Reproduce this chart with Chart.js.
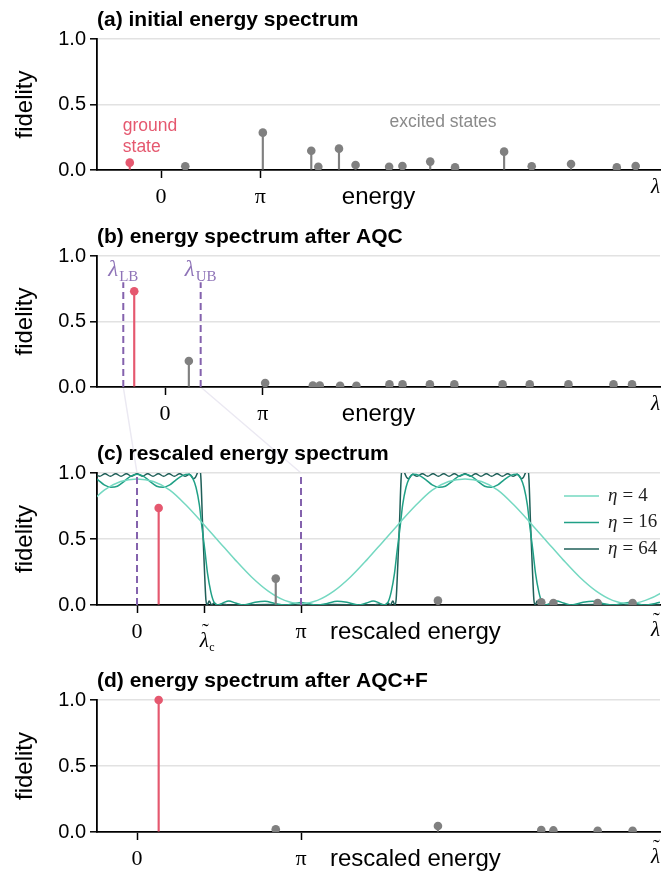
<!DOCTYPE html>
<html>
<head>
<meta charset="utf-8">
<title>Energy spectrum before and after AQC+F</title>
<script src="https://cdn.jsdelivr.net/npm/chart.js@4.4.1/dist/chart.umd.min.js"></script>
<style>
  body { margin: 0; background: #fff; }
  #wrap { position: relative; width: 670px; height: 873px; overflow: hidden; }
  #wrap canvas { position: absolute; left: 0; }
</style>
</head>
<body>
<div id="wrap">
  <canvas id="links" width="670" height="873" style="top:0"></canvas>
  <canvas id="panel-a" width="670" height="218" style="top:0"></canvas>
  <canvas id="panel-b" width="670" height="218" style="top:218px"></canvas>
  <canvas id="panel-c" width="670" height="218" style="top:436px"></canvas>
  <canvas id="panel-d" width="670" height="219" style="top:654px"></canvas>
</div>
<script>
// all x values are in units of pi; index 0 is the ground state
const energies = [-0.315, 0.244, 1.025, 1.513, 1.584, 1.792, 1.959, 2.297, 2.431, 2.711, 2.961, 3.455, 3.733, 4.129, 4.59, 4.78];
const fidelityInitial = [0.056, 0.028, 0.285, 0.147, 0.025, 0.163, 0.038, 0.025, 0.03, 0.064, 0.02, 0.14, 0.028, 0.046, 0.02, 0.03];
const fidelityAQC = [0.731, 0.199, 0.03, 0.012, 0.012, 0.01, 0.01, 0.02, 0.02, 0.02, 0.02, 0.02, 0.02, 0.02, 0.02, 0.02];

const lambdaLB = -0.427;
const lambdaUB = 0.365;
const lambdaC = 0.41;

// states that stay inside the rescaled window
const rescaledEnergies = [0.132, 0.846, 1.835, 2.465, 2.539, 2.809, 3.022];
const fidelityRescaled = [0.735, 0.2, 0.033, 0.02, 0.015, 0.015, 0.015];
const fidelityFiltered = [1.0, 0.02, 0.045, 0.015, 0.012, 0.01, 0.01];

// filter curves, [x, fidelity]
const etaValues = [4, 16, 64];
const eta4Curve = [[-0.3,0.755],[-0.2,0.87],[-0.1,0.935],[0,0.955],[0.1,0.935],[0.2,0.87],[0.3,0.755],[0.4,0.62],[0.5,0.48],[0.6,0.34],[0.7,0.21],[0.8,0.105],[0.9,0.035],[1.0,0.01],[1.1,0.035],[1.2,0.105],[1.3,0.21],[1.4,0.34],[1.5,0.48],[1.6,0.62],[1.7,0.755],[1.8,0.87],[1.9,0.935],[2.0,0.955],[2.1,0.935],[2.2,0.87],[2.3,0.755],[2.4,0.62],[2.5,0.48],[2.6,0.34],[2.7,0.21],[2.8,0.105],[2.9,0.035],[3.0,0.01],[3.1,0.035],[3.2,0.095],[3.3,0.21]];
const eta16Curve = [[-0.3,0.988],[-0.28,0.982],[-0.24,0.95],[-0.2,0.91],[-0.16,0.892],[-0.12,0.9],[-0.08,0.935],[-0.04,0.975],[0,0.99],[0.04,0.975],[0.08,0.935],[0.12,0.9],[0.16,0.892],[0.2,0.91],[0.24,0.95],[0.28,0.982],[0.315,0.99],[0.34,0.96],[0.36,0.89],[0.38,0.76],[0.395,0.6],[0.405,0.5],[0.415,0.4],[0.43,0.24],[0.45,0.1],[0.47,0.02],[0.495,0],[0.53,0.02],[0.56,0.03],[0.6,0.015],[0.65,0],[0.72,0.02],[0.78,0.028],[0.84,0.012],[0.9,0],[0.96,0.012],[1.0,0.018],[1.04,0.012],[1.1,0],[1.16,0.012],[1.22,0.028],[1.28,0.02],[1.35,0],[1.4,0.015],[1.44,0.03],[1.47,0.02],[1.505,0],[1.53,0.02],[1.55,0.1],[1.57,0.24],[1.585,0.4],[1.595,0.5],[1.605,0.6],[1.62,0.76],[1.64,0.89],[1.66,0.96],[1.685,0.99],[1.72,0.982],[1.76,0.95],[1.8,0.91],[1.84,0.892],[1.88,0.9],[1.92,0.935],[1.96,0.975],[2.0,0.99],[2.04,0.975],[2.08,0.935],[2.12,0.9],[2.16,0.892],[2.2,0.91],[2.24,0.95],[2.28,0.982],[2.315,0.99],[2.34,0.96],[2.36,0.89],[2.38,0.76],[2.395,0.6],[2.405,0.5],[2.415,0.4],[2.43,0.24],[2.45,0.1],[2.47,0.02],[2.495,0],[2.53,0.02],[2.56,0.03],[2.6,0.015],[2.65,0],[2.72,0.02],[2.78,0.028],[2.84,0.012],[2.9,0],[2.96,0.012],[3.0,0.018],[3.04,0.012],[3.1,0],[3.16,0.012],[3.22,0.028],[3.3,0.015]];
const eta64Curve = [[-0.3,0.985],[-0.2925,0.975],[-0.26,0.995],[-0.2275,0.975],[-0.195,0.995],[-0.1625,0.975],[-0.13,0.995],[-0.0975,0.975],[-0.065,0.995],[-0.0325,0.975],[0,0.995],[0.0325,0.975],[0.065,0.995],[0.0975,0.975],[0.13,0.995],[0.1625,0.975],[0.195,0.995],[0.2275,0.975],[0.26,0.995],[0.2925,0.975],[0.32,0.99],[0.346,0.957],[0.368,1.0],[0.38,1.06],[0.39,0.95],[0.4,0.6],[0.41,0.3],[0.42,0.04],[0.428,0],[0.44,0.03],[0.455,0],[0.47,0.015],[0.49,0],[0.52,0.008],[0.56,0],[0.8,0.004],[1.0,0],[1.2,0.004],[1.44,0],[1.48,0.008],[1.51,0],[1.53,0.015],[1.545,0],[1.56,0.03],[1.572,0],[1.58,0.04],[1.59,0.3],[1.6,0.6],[1.61,0.95],[1.62,1.06],[1.632,1.0],[1.654,0.957],[1.68,0.99],[1.7075,0.975],[1.74,0.995],[1.7725,0.975],[1.805,0.995],[1.8375,0.975],[1.87,0.995],[1.9025,0.975],[1.935,0.995],[1.9675,0.975],[2.0,0.995],[2.0325,0.975],[2.065,0.995],[2.0975,0.975],[2.13,0.995],[2.1625,0.975],[2.195,0.995],[2.2275,0.975],[2.26,0.995],[2.2925,0.975],[2.32,0.99],[2.346,0.957],[2.368,1.0],[2.38,1.06],[2.39,0.95],[2.4,0.6],[2.41,0.3],[2.42,0.04],[2.428,0],[2.44,0.03],[2.455,0],[2.47,0.015],[2.49,0],[2.52,0.008],[2.56,0],[2.8,0.004],[3.0,0],[3.3,0]];

const SANS = "'Liberation Sans', Arial, Helvetica, sans-serif";
const SERIF = "'Liberation Serif', 'DejaVu Serif', serif";
const RED = '#e5586f';
const GRAY = '#808080';
const PURPLE = '#8462ad';
const PURPLE_TEXT = '#8f74b8';
const ETA_COLORS = ['#74d8c1', '#20a086', '#1f5f58'];

const toPts = (xs, ys) => xs.map((x, i) => ({ x, y: ys[i] }));
const pairPts = arr => arr.map(([x, y]) => ({ x, y }));
const dotClip = { left: 0, right: 0, top: false, bottom: 0 };

// stems = thin bars, heads = scatter dots
function stemSets(xs, ys) {
  const ground = toPts(xs.slice(0, 1), ys.slice(0, 1));
  const excited = toPts(xs.slice(1), ys.slice(1));
  return [
    { type: 'scatter', data: ground, backgroundColor: RED, borderWidth: 0, pointRadius: 4.3, order: 0, clip: dotClip },
    { type: 'scatter', data: excited, backgroundColor: GRAY, borderWidth: 0, pointRadius: 4.3, order: 0, clip: dotClip },
    { type: 'bar', data: ground, backgroundColor: RED, barThickness: 1.5, grouped: false, order: 1 },
    { type: 'bar', data: excited, backgroundColor: GRAY, barThickness: 1.5, grouped: false, order: 1 }
  ];
}

function vline(x, top) {
  return { type: 'line', data: [{ x, y: 0 }, { x, y: top }], borderColor: PURPLE, borderWidth: 2,
    borderDash: [7, 4], pointRadius: 0, order: 1, clip: false };
}

function curve(pts, color) {
  return { type: 'line', data: pairPts(pts), borderColor: color, borderWidth: 1.5, pointRadius: 0,
    cubicInterpolationMode: 'monotone', order: 3, clip: 0 };
}

// the cutoff tick gets its label (lambda tilde with subscript c) from the decor plugin
function tickText(v) {
  if (v === 0) return '0';
  if (v === 1) return 'π';
  return '';
}

// draw a run of text pieces with different fonts
function drawPieces(ctx, pieces, x, y, align) {
  let w = 0;
  pieces.forEach(p => { ctx.font = p.font; w += ctx.measureText(p.t).width + (p.gap || 0); });
  let cx = align === 'center' ? x - w / 2 : align === 'right' ? x - w : x;
  ctx.textAlign = 'left';
  pieces.forEach(p => {
    ctx.font = p.font;
    ctx.fillText(p.t, cx, y + (p.dy || 0));
    cx += ctx.measureText(p.t).width + (p.gap || 0);
  });
}

// italic lambda with a tilde on top, baseline at y, right edge at x
function drawLambdaTilde(ctx, x, y, size, align) {
  ctx.font = `italic ${size}px ${SERIF}`;
  const w = ctx.measureText('λ').width;
  const left = align === 'center' ? x - w / 2 : x - w;
  ctx.textAlign = 'left';
  ctx.fillText('λ', left, y);
  ctx.font = `${size}px ${SERIF}`;
  ctx.textAlign = 'center';
  ctx.fillText('\u02DC', left + w * 0.6, y - size * 0.42);
}

function decorPlugin(p) {
  return {
    id: 'decor',
    afterDraw(chart) {
      const { ctx, chartArea: area, scales: { x, y } } = chart;
      ctx.save();
      ctx.fillStyle = '#000';
      ctx.textBaseline = 'alphabetic';
      ctx.textAlign = 'left';
      ctx.font = `bold 21px ${SANS}`;
      ctx.fillText(p.title, area.left, area.top - 13);

      // y axis label
      ctx.save();
      ctx.translate(25, (area.top + area.bottom) / 2);
      ctx.rotate(-Math.PI / 2);
      ctx.textAlign = 'center';
      ctx.textBaseline = 'middle';
      ctx.font = `24px ${SANS}`;
      ctx.fillText('fidelity', 0, 0);
      ctx.restore();

      // x axis label
      ctx.font = `24px ${SANS}`;
      if (p.xLabelCentered) {
        ctx.textAlign = 'center';
        ctx.fillText(p.xLabel, (area.left + area.right) / 2, area.bottom + 34);
      } else {
        ctx.textAlign = 'left';
        ctx.fillText(p.xLabel, x.getPixelForValue(1) + 29, area.bottom + 34);
      }

      // variable name at the end of the x axis
      if (p.tilde) {
        drawLambdaTilde(ctx, area.right, area.bottom + p.lambdaDy, 21, 'right');
      } else {
        ctx.textAlign = 'right';
        ctx.font = `italic 21px ${SERIF}`;
        ctx.fillText('λ', area.right, area.bottom + p.lambdaDy);
      }

      if (p.extra) p.extra(ctx, area, x, y);
      ctx.restore();
    }
  };
}

function makePanel(p) {
  return new Chart(document.getElementById(p.id), {
    type: 'scatter',
    data: { datasets: p.datasets },
    options: {
      responsive: false,
      animation: false,
      devicePixelRatio: 1,
      layout: { padding: { top: p.top, right: 10, left: 0, bottom: 0 } },
      plugins: { legend: { display: false }, tooltip: { enabled: false } },
      scales: {
        x: {
          type: 'linear', min: p.min, max: p.max, offset: false,
          border: { color: '#000', width: 1.8 },
          grid: { offset: false, drawOnChartArea: false, tickLength: 8, tickWidth: 1.5, tickColor: '#000' },
          ticks: { font: { family: SERIF, size: 22 }, color: '#000', padding: 6, maxRotation: 0, autoSkip: false, callback: tickText },
          afterBuildTicks: s => { s.ticks = p.ticks.map(v => ({ value: v })); },
          afterFit: s => { s.height = p.xAxisH; }
        },
        y: {
          min: 0, max: 1,
          border: { color: '#000', width: 1.8 },
          grid: { color: c => (c.tick && c.tick.value === 0) ? 'rgba(0,0,0,0)' : '#e2e2e2', lineWidth: 1.6,
                  tickColor: '#000', tickLength: 7, tickWidth: 1.5 },
          ticks: { stepSize: 0.5, font: { family: SANS, size: 20 }, color: '#000', padding: 4, callback: v => v.toFixed(1) },
          afterFit: s => { s.width = 97; }
        }
      }
    },
    plugins: [decorPlugin(p)]
  });
}

const chartA = makePanel({
  id: 'panel-a', title: '(a) initial energy spectrum', top: 39, xAxisH: 48,
  min: -0.645, max: 5.025, ticks: [0, 1], xLabel: 'energy', xLabelCentered: true, lambdaDy: 23,
  datasets: stemSets(energies, fidelityInitial),
  extra(ctx, area, x, y) {
    ctx.font = `17.5px ${SANS}`;
    ctx.textAlign = 'left';
    ctx.fillStyle = RED;
    const gx = x.getPixelForValue(energies[0]) - 7;
    const gy = y.getPixelForValue(fidelityInitial[0]);
    ctx.fillText('ground', gx, gy - 32);
    ctx.fillText('state', gx, gy - 11);
    ctx.fillStyle = '#8a8a8a';
    ctx.textAlign = 'center';
    ctx.fillText('excited states', x.getPixelForValue(2.84), y.getPixelForValue(0.33));
  }
});

const chartB = makePanel({
  id: 'panel-b', title: '(b) energy spectrum after AQC', top: 38, xAxisH: 49,
  min: -0.696, max: 5.066, ticks: [0, 1], xLabel: 'energy', xLabelCentered: true, lambdaDy: 23,
  datasets: [...stemSets(energies, fidelityAQC), vline(lambdaLB, 0.8), vline(lambdaUB, 0.8)],
  extra(ctx, area, x, y) {
    ctx.fillStyle = PURPLE_TEXT;
    [[lambdaLB, 'LB'], [lambdaUB, 'UB']].forEach(([v, sub]) => {
      drawPieces(ctx, [
        { t: 'λ', font: `italic 23px ${SERIF}`, gap: 1 },
        { t: sub, font: `15px ${SERIF}`, dy: 5 }
      ], x.getPixelForValue(v), area.top + 20, 'center');
    });
  }
});

const chartC = makePanel({
  id: 'panel-c', title: '(c) rescaled energy spectrum', top: 37, xAxisH: 49,
  min: -0.244, max: 3.189, ticks: [0, lambdaC, 1], xLabel: 'rescaled energy', xLabelCentered: false,
  tilde: true, lambdaDy: 31,
  datasets: [
    ...stemSets(rescaledEnergies, fidelityRescaled),
    vline(0, 1), vline(1, 1),
    curve(eta4Curve, ETA_COLORS[0]), curve(eta16Curve, ETA_COLORS[1]), curve(eta64Curve, ETA_COLORS[2])
  ],
  extra(ctx, area, x, y) {
    const lx = area.right - 96;
    etaValues.forEach((n, i) => {
      const ly = area.top + 23 + i * 26.5;
      ctx.strokeStyle = ETA_COLORS[i];
      ctx.lineWidth = 1.5;
      ctx.beginPath();
      ctx.moveTo(lx, ly);
      ctx.lineTo(lx + 35, ly);
      ctx.stroke();
      ctx.fillStyle = '#222';
      ctx.textBaseline = 'middle';
      drawPieces(ctx, [
        { t: 'η', font: `italic 19px ${SERIF}`, gap: 5 },
        { t: '=', font: `19px ${SERIF}`, gap: 5 },
        { t: String(n), font: `19px ${SERIF}` }
      ], lx + 44, ly, 'left');
    });
    // cutoff tick label: lambda tilde, subscript c
    ctx.fillStyle = '#000';
    ctx.textBaseline = 'alphabetic';
    const cx = x.getPixelForValue(lambdaC);
    drawLambdaTilde(ctx, cx, area.bottom + 42, 21, 'center');
    ctx.textAlign = 'left';
    ctx.font = `12px ${SERIF}`;
    ctx.fillText('c', cx + 5, area.bottom + 46);
  }
});

const chartD = makePanel({
  id: 'panel-d', title: '(d) energy spectrum after AQC+F', top: 46, xAxisH: 41,
  min: -0.244, max: 3.189, ticks: [0, 1], xLabel: 'rescaled energy', xLabelCentered: false,
  tilde: true, lambdaDy: 31,
  datasets: stemSets(rescaledEnergies, fidelityFiltered)
});

// faint lines linking the window [lambdaLB, lambdaUB] in (b) to [0, pi] in (c)
(function drawLinks() {
  const lc = document.getElementById('links').getContext('2d');
  lc.strokeStyle = '#ebe9f2';
  lc.lineWidth = 1.5;
  [[lambdaLB, 0], [lambdaUB, 1]].forEach(([from, to]) => {
    lc.beginPath();
    lc.moveTo(chartB.scales.x.getPixelForValue(from), 218 + chartB.chartArea.bottom);
    lc.lineTo(chartC.scales.x.getPixelForValue(to), 436 + chartC.chartArea.top);
    lc.stroke();
  });
})();
</script>
</body>
</html>
